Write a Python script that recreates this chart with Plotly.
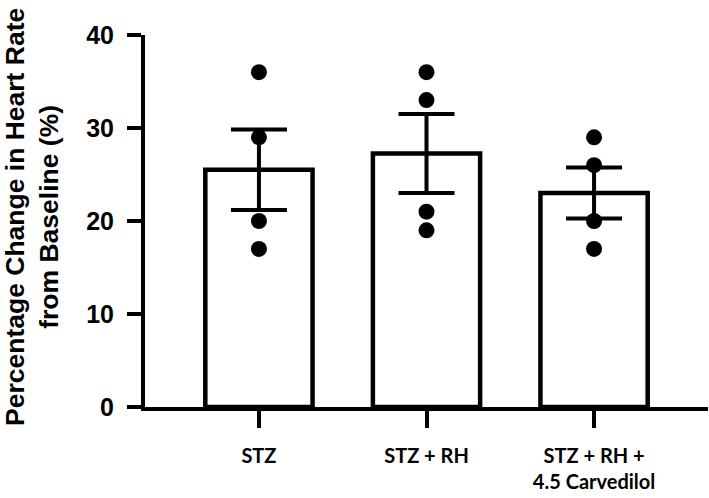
import plotly.graph_objects as go

categories = ["STZ", "STZ + RH", "STZ + RH +<br>4.5 Carvedilol"]
means = [25.5, 27.25, 23.0]
sems = [4.33, 4.25, 2.74]
points_stz = [36, 29, 20, 17]
points_stz_rh = [36, 33, 21, 19]
points_stz_rh_carv = [29, 26, 20, 17]
y_ticks = [0, 10, 20, 30, 40]
y_title = "Percentage Change in Heart Rate<br>from Baseline (%)"

all_points = [points_stz, points_stz_rh, points_stz_rh_carv]
xs = list(range(len(categories)))

W, H = 709, 498
L, R, T, B = 145, 1, 35, 91
PW, PH = W - L - R, H - T - B

fig = go.Figure()
fig.add_trace(go.Bar(
    x=xs, y=means, width=0.64,
    marker=dict(color="white", line=dict(color="black", width=4.5)),
    showlegend=False, hoverinfo="skip",
))
px, py = [], []
for i, pts in enumerate(all_points):
    px += [i] * len(pts)
    py += pts
fig.add_trace(go.Scatter(
    x=px, y=py, mode="markers",
    marker=dict(color="black", size=16, line=dict(width=0)),
    showlegend=False, hoverinfo="skip",
))
fig.add_trace(go.Scatter(
    x=xs, y=means, mode="markers",
    marker=dict(size=0.1, color="rgba(0,0,0,0)"),
    error_y=dict(type="data", array=sems, visible=True, color="black", thickness=4, width=28),
    showlegend=False, hoverinfo="skip",
))

fig.update_layout(
    width=W, height=H,
    margin=dict(l=L, r=R, t=T, b=B, autoexpand=False),
    plot_bgcolor="white", paper_bgcolor="white",
)
fig.add_annotation(
    text=y_title, xref="paper", yref="paper",
    x=(32 - L) / PW, y=(H - B - 217) / PH,
    xanchor="center", yanchor="middle", textangle=-90, showarrow=False,
    font=dict(family="Liberation Sans", size=26.5, color="black", weight="bold"),
)
fig.update_xaxes(
    range=[-0.68, 2.68], tickmode="array", tickvals=xs, ticktext=categories,
    showline=True, linecolor="black", linewidth=4,
    ticks="outside", ticklen=17, tickwidth=3.5, tickcolor="black",
    tickfont=dict(family="Lato", size=20, color="black", weight="bold"),
    ticklabelstandoff=11, showgrid=False, zeroline=False, automargin=False,
)
fig.update_yaxes(
    range=[0, 40], tickmode="array", tickvals=y_ticks,
    showline=True, linecolor="black", linewidth=4,
    ticks="outside", ticklen=14, tickwidth=4, tickcolor="black",
    tickfont=dict(family="Liberation Sans", size=25, color="black", weight="bold"),
    ticklabelstandoff=8, showgrid=False, zeroline=False, automargin=False,
)
fig.write_html("out.html", config={"displayModeBar": False},
               post_script="document.body.style.margin='0';")
